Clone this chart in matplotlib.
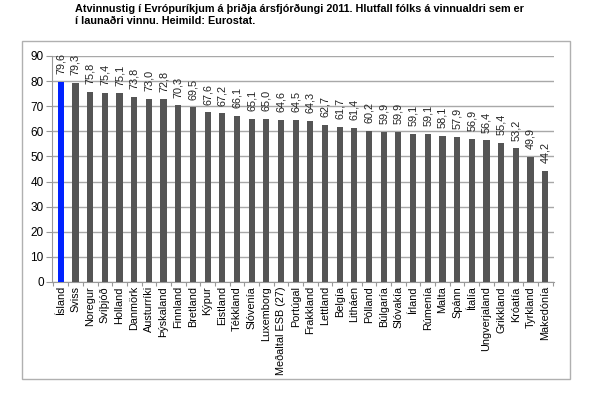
import matplotlib
matplotlib.use("Agg")
import matplotlib.pyplot as plt
from matplotlib.patches import Rectangle

countries = ["Ísland", "Sviss", "Noregur", "Svíþjóð", "Holland", "Danmörk",
             "Austurríki", "Þýskaland", "Finnland", "Bretland", "Kýpur",
             "Eistland", "Tékkland", "Slóvenía", "Luxemborg", "Meðaltal ESB (27)",
             "Portúgal", "Frakkland", "Lettland", "Belgía", "Litháen", "Pólland",
             "Búlgaría", "Slóvakía", "Írland", "Rúmenía", "Malta", "Spánn",
             "Ítalía", "Ungverjaland", "Grikkland", "Króatía", "Tyrkland",
             "Makedónía"]
rates = [79.6, 79.3, 75.8, 75.4, 75.1, 73.8, 73.0, 72.8, 70.3, 69.5, 67.6,
         67.2, 66.1, 65.1, 65.0, 64.6, 64.5, 64.3, 62.7, 61.7, 61.4, 60.2,
         59.9, 59.9, 59.1, 59.1, 58.1, 57.9, 56.9, 56.4, 55.4, 53.2, 49.9, 44.2]
yticks = list(range(0, 100, 10))

plt.rcParams['font.family'] = ['Liberation Sans', 'DejaVu Sans']

fig = plt.figure(figsize=(6.0, 3.98), dpi=100)
ax = fig.add_axes([52 / 600, 1 - 282 / 398, 502 / 600, 226 / 398])

# outer frame round the chart
fig.patches.append(Rectangle((22 / 600, 1 - 379 / 398), 548 / 600, 338 / 398,
                             transform=fig.transFigure, fill=False,
                             edgecolor='#b0b0b0', lw=1.0))

colors = ['#0022ff'] + ['#555555'] * (len(rates) - 1)
x = list(range(len(rates)))
ax.bar(x, rates, width=0.42, color=colors, zorder=3)

for xi, v in zip(x, rates):
    ax.annotate(f"{v:.1f}".replace('.', ','), (xi, v), xytext=(0, 5.5),
                textcoords='offset points', rotation=90, ha='center',
                va='bottom', fontsize=7.8, color='#222222', zorder=4)

ax.set_ylim(0, 90)
ax.set_xlim(-0.6, len(rates) - 0.4)
ax.set_yticks(yticks)
ax.set_yticklabels([str(t) for t in yticks], fontsize=8.5)
ax.yaxis.grid(True, color='#a8a8a8', lw=1.0, zorder=0)
ax.set_axisbelow(True)

ax.set_xticks([i - 0.5 for i in range(len(rates) + 1)], minor=False)
ax.set_xticklabels([])
ax.set_xticks(x, minor=True)
ax.set_xticklabels(countries, minor=True, rotation=90, fontsize=7.8, va='top')
ax.tick_params(axis='x', which='minor', length=0, pad=3)
ax.tick_params(axis='x', which='major', length=3, color='#999999')
ax.tick_params(axis='y', length=4, color='#999999', pad=2)

for side in ['top', 'right']:
    ax.spines[side].set_visible(False)
for side in ['left', 'bottom']:
    ax.spines[side].set_color('#999999')

fig.text(75 / 600, 1 - 4 / 398,
         "Atvinnustig í Evrópuríkjum á þriðja ársfjórðungi 2011. Hlutfall fólks á vinnualdri sem er\n"
         "í launaðri vinnu. Heimild: Eurostat.",
         ha='left', va='top', fontsize=7.8, fontweight='bold', linespacing=1.3)

fig.savefig("out.png", dpi=100)
